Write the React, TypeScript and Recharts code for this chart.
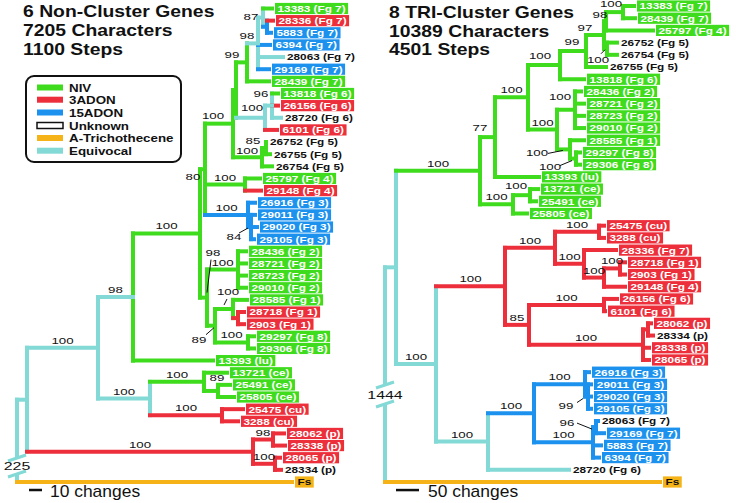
import React from "react";
import { ScatterChart, Scatter, XAxis, YAxis } from "recharts";

const FONT = "'Liberation Sans', Arial, Helvetica, sans-serif";
const PALETTE: Record<string, string> = {
  g: "#3fdc1e",
  r: "#ec2f3b",
  b: "#1c92ee",
  c: "#82d9d6",
  o: "#f5b318",
};

// character states shown in the legend
const stateNames = ["NIV", "3ADON", "15ADON", "Unknown", "A-Trichothecene", "Equivocal"];
const stateKeys = ["g", "r", "b", "", "o", "c"];

const leftTitle = ["6 Non-Cluster Genes", "7205 Characters", "1100 Steps"];
const rightTitle = ["8 TRI-Cluster Genes", "10389 Characters", "4501 Steps"];

type Kid = string | number;
// [label, tip position, branch colour, box colour ('' = plain text)]
type LeafRow = [string, number, string, string];
// [id, position, colour of the vertical, colour of the branch leading in, children]
type NodeRow = [string, number, string, string, Kid[]];
// [node, support, label nudge x, nudge y, pointer]
type SupportRow = [string, string, number?, number?, number[]?];

// ---- left tree: 6 non-cluster genes ----
const leftLeaves: LeafRow[] = [
  ["13383 (Fg 7)", 272, "g", "g"],
  ["28336 (Fg 7)", 273, "r", "r"],
  ["5883 (Fg 7)", 271, "b", "b"],
  ["6394 (Fg 7)", 270, "b", "b"],
  ["28063 (Fg 7)", 283, "c", ""],
  ["29169 (Fg 7)", 269, "b", "b"],
  ["28439 (Fg 7)", 269, "g", "g"],
  ["13818 (Fg 6)", 278, "g", "g"],
  ["26156 (Fg 6)", 278, "r", "r"],
  ["28720 (Fg 6)", 281, "c", ""],
  ["6101 (Fg 6)", 277, "r", "r"],
  ["26752 (Fg 5)", 266, "g", ""],
  ["26755 (Fg 5)", 270, "g", ""],
  ["26754 (Fg 5)", 272, "g", ""],
  ["25797 (Fg 4)", 260, "g", "g"],
  ["29148 (Fg 4)", 261, "r", "r"],
  ["26916 (Fg 3)", 255, "b", "b"],
  ["29011 (Fg 3)", 255, "b", "b"],
  ["29020 (Fg 3)", 257, "b", "b"],
  ["29105 (Fg 3)", 254, "b", "b"],
  ["28436 (Fg 2)", 246, "g", "g"],
  ["28721 (Fg 2)", 246, "g", "g"],
  ["28723 (Fg 2)", 246, "g", "g"],
  ["29010 (Fg 2)", 246, "g", "g"],
  ["28585 (Fg 1)", 247, "g", "g"],
  ["28718 (Fg 1)", 244, "r", "r"],
  ["2903 (Fg 1)", 244, "r", "r"],
  ["29297 (Fg 8)", 254, "g", "g"],
  ["29306 (Fg 8)", 254, "g", "g"],
  ["13393 (lu)", 213, "g", "g"],
  ["13721 (ce)", 227, "g", "g"],
  ["25491 (ce)", 230, "g", "g"],
  ["25805 (ce)", 234, "g", "g"],
  ["25475 (cu)", 243, "r", "r"],
  ["3288 (cu)", 238, "r", "r"],
  ["28062 (p)", 284, "r", "r"],
  ["28338 (p)", 285, "r", "r"],
  ["28065 (p)", 280, "r", "r"],
  ["28334 (p)", 281, "r", ""],
  ["Fs", 292, "o", "o"],
];

const leftNodes: NodeRow[] = [
  ["root", 17, "c", "c", ["A", 39]],
  ["A", 27, "c", "c", ["B", "C"]],
  ["B", 98, "c", "c", ["D", "E"]],
  ["C", 253, "r", "r", ["C1", "C2"]],
  ["C1", 273, "r", "r", [35, 36]],
  ["C2", 275, "r", "r", [37, 38]],
  ["D", 133, "g", "c", ["I", 29]],
  ["E", 150, "c", "c", ["F", "H"]],
  ["F", 204, "g", "g", [30, "G"]],
  ["G", 218, "g", "g", [31, 32]],
  ["H", 222, "r", "r", [33, 34]],
  ["I", 200, "g", "g", ["V", "I2"]],
  ["V", 205, "g", "g", ["U", "Fg4", "Fg3"]],
  ["U", 233, "g", "g", ["W", "Fg5"]],
  ["W", 236, "g", "g", ["N99", "Fg6"]],
  ["N99", 247, "g", "g", ["N98", 6]],
  ["N98", 258, "c", "c", ["N87", 3, 4, 5]],
  ["N87", 263, "c", "c", [0, "N87a"]],
  ["N87a", 267, "b", "b", [1, 2]],
  ["Fg6", 265, "c", "c", ["Fg6a", 10]],
  ["Fg6a", 272, "c", "c", [7, 8, 9]],
  ["Fg5", 262, "g", "g", ["Fg5a", 13]],
  ["Fg5a", 266, "g", "g", [11, 12]],
  ["Fg4", 245, "g", "g", [14, 15]],
  ["Fg3", 248, "b", "b", [16, "Fg3a"]],
  ["Fg3a", 251, "b", "b", [17, 18, 19]],
  ["I2", 207, "g", "g", ["Fg2", "K"]],
  ["Fg2", 238, "g", "g", [20, 21, 22, 23]],
  ["K", 215, "g", "g", ["Fg1", "Fg8"]],
  ["Fg1", 233, "g", "g", [24, "R"]],
  ["R", 238, "r", "r", [25, 26]],
  ["Fg8", 248, "g", "g", [27, 28]],
];

const leftSupport: SupportRow[] = [
  ["B", "100"], ["C", "100"], ["C1", "98"], ["C2", "100"], ["D", "98"],
  ["E", "100"], ["F", "100"], ["G", "89", -1, -10], ["H", "100"], ["I", "100"],
  ["V", "80", -12, 11], ["U", "100", -20, -5], ["N99", "99", -15, -4],
  ["N98", "98", -11, -4], ["N87", "87", -12, 2], ["Fg6", "100", -13, -7],
  ["Fg6a", "96", -11, -9], ["Fg5", "100", -15, -3], ["Fg5a", "85", -13, -4],
  ["Fg4", "100"], ["Fg3", "100"], ["Fg3a", "84", -17, 13, [-12, 6, -3, 1]],
  ["I2", "98", 6, -42, [4, -38, 0, -5]], ["Fg2", "100"],
  ["K", "89", -16, 17, [-9, 9, -1, 2]], ["Fg1", "100", -5, -14, [-6, -10, -9, -4]],
  ["Fg8", "100"],
];

// ---- right tree: 8 TRI-cluster genes ----
const rightLeaves: LeafRow[] = [
  ["13383 (Fg 7)", 634, "g", "g"],
  ["28439 (Fg 7)", 635, "g", "g"],
  ["25797 (Fg 4)", 653, "g", "g"],
  ["26752 (Fg 5)", 617, "g", ""],
  ["26754 (Fg 5)", 617, "g", ""],
  ["26755 (Fg 5)", 606, "g", ""],
  ["13818 (Fg 6)", 584, "g", "g"],
  ["28436 (Fg 2)", 581, "g", "g"],
  ["28721 (Fg 2)", 584, "g", "g"],
  ["28723 (Fg 2)", 584, "g", "g"],
  ["29010 (Fg 2)", 584, "g", "g"],
  ["28585 (Fg 1)", 584, "g", "g"],
  ["29297 (Fg 8)", 580, "g", "g"],
  ["29306 (Fg 8)", 580, "g", "g"],
  ["13393 (lu)", 539, "g", "g"],
  ["13721 (ce)", 538, "g", "g"],
  ["25491 (ce)", 536, "g", "g"],
  ["25805 (ce)", 527, "g", "g"],
  ["25475 (cu)", 604, "r", "r"],
  ["3288 (cu)", 604, "r", "r"],
  ["28336 (Fg 7)", 616, "r", "r"],
  ["28718 (Fg 1)", 625, "r", "r"],
  ["2903 (Fg 1)", 625, "r", "r"],
  ["29148 (Fg 4)", 625, "r", "r"],
  ["26156 (Fg 6)", 617, "r", "r"],
  ["6101 (Fg 6)", 605, "r", "r"],
  ["28062 (p)", 651, "r", "r"],
  ["28334 (p)", 653, "r", ""],
  ["28338 (p)", 649, "r", "r"],
  ["28065 (p)", 649, "r", "r"],
  ["26916 (Fg 3)", 589, "b", "b"],
  ["29011 (Fg 3)", 591, "b", "b"],
  ["29020 (Fg 3)", 591, "b", "b"],
  ["29105 (Fg 3)", 591, "b", "b"],
  ["28063 (Fg 7)", 598, "b", ""],
  ["29169 (Fg 7)", 604, "b", "b"],
  ["5883 (Fg 7)", 601, "b", "b"],
  ["6394 (Fg 7)", 599, "b", "b"],
  ["28720 (Fg 6)", 569, "c", ""],
  ["Fs", 660, "o", "o"],
];

const rightNodes: NodeRow[] = [
  ["root", 385, "c", "c", ["R1", 39]],
  ["R1", 396, "c", "c", ["G1", "R2"]],
  ["G1", 480, "g", "g", ["G2", "CE"]],
  ["G2", 495, "g", "g", ["G3", 14]],
  ["G3", 528, "g", "g", ["G4", "G5"]],
  ["G4", 560, "g", "g", ["G6", 6]],
  ["G6", 586, "g", "g", ["G7", 5]],
  ["G7", 604, "g", "g", ["G7a", "P"]],
  ["G7a", 606, "g", "g", ["G8", 2]],
  ["G8", 623, "g", "g", [0, 1]],
  ["P", 607, "g", "g", [3, 4]],
  ["G5", 557, "g", "g", ["Fg2", "Fg18"]],
  ["Fg2", 575, "g", "g", [7, 8, 9, 10]],
  ["Fg18", 570, "g", "g", [11, "Fg8"]],
  ["Fg8", 576, "g", "g", [12, 13]],
  ["CE", 513, "g", "g", ["CEa", 17]],
  ["CEa", 530, "g", "g", [15, 16]],
  ["R2", 436, "c", "c", ["RD", "R3"]],
  ["RD", 505, "r", "r", ["RD1", "RD2"]],
  ["RD1", 555, "r", "r", ["R4", "R5"]],
  ["R4", 599, "r", "r", [18, 19]],
  ["R5", 584, "r", "r", [20, "R5a"]],
  ["R5a", 604, "r", "r", ["R5b", 23]],
  ["R5b", 620, "r", "r", [21, 22]],
  ["RD2", 529, "r", "r", ["R6", "R7"]],
  ["R6", 604, "r", "r", [24, 25]],
  ["R7", 643, "r", "r", ["R7a", 28, 29]],
  ["R7a", 648, "r", "r", [26, 27]],
  ["R3", 488, "c", "c", ["B1", 38]],
  ["B1", 534, "b", "b", ["B2", "B3"]],
  ["B2", 585, "b", "b", [30, "B2a"]],
  ["B2a", 588, "b", "b", [31, 32, 33]],
  ["B3", 593, "b", "b", ["B3a", 36, 37]],
  ["B3a", 596, "b", "b", [34, 35]],
];

const rightSupport: SupportRow[] = [
  ["G1", "100"], ["G2", "77", -15, -6], ["G3", "100"], ["G4", "100", -20, -6],
  ["G6", "99", -14, -6], ["G7", "97", -19, -4], ["G7a", "98", -6, -3],
  ["G8", "100", -12, -5], ["P", "100", -9, 14, [-6, 5, -2, 1]], ["G5", "100"],
  ["Fg2", "100", -15, -10], ["Fg18", "100", -33, 7, [-22, 4, -7, 1]],
  ["Fg8", "100", -26, 11, [-16, 7, -4, 2]], ["CE", "100"], ["CEa", "100", -14, -6],
  ["R2", "100"], ["RD", "100"], ["RD1", "100"], ["R4", "100"], ["R5", "100"],
  ["R5a", "100"], ["R5b", "100"], ["RD2", "85"], ["R6", "100"], ["R7", "100"],
  ["R3", "100"], ["B1", "100"], ["B2", "100"], ["B2a", "99", -22, 12, [-11, 6, -5, 2]],
  ["B3", "100"], ["B3a", "96", -29, -1, [-19, -4, -4, 2]],
];

// scale bars: [from, to, row]
const leftScaleBar = [29, 42, 39.66];
const rightScaleBar = [396, 419, 39.66];

// Arial-bold advance widths (em)
const BOLD_W: Record<string, number> = {
  " ": 0.278, "(": 0.333, ")": 0.333, F: 0.611, g: 0.611, l: 0.278,
  u: 0.611, c: 0.556, e: 0.556, p: 0.611, s: 0.556,
};
const textEm = (s: string) =>
  [...s].reduce((a, ch) => a + (/[0-9]/.test(ch) ? 0.556 : BOLD_W[ch] ?? 0.6), 0);

type Seg = { x1: number; x2: number; y1: number; y2: number; c: string };

function layoutTree(nodes: NodeRow[], leaves: LeafRow[]) {
  const byId = new Map(nodes.map((n) => [n[0], n]));
  const ys = new Map<string, number>();
  const parentX = new Map<string, number>();
  const verticals: Seg[] = [];
  const branches: Seg[] = [];
  const place = (id: string): number => {
    const n = byId.get(id)!;
    const kidY = n[4].map((k) => {
      if (typeof k === "number") {
        branches.push({ x1: n[1], x2: leaves[k][1], y1: k, y2: k, c: leaves[k][2] });
        return k;
      }
      const y = place(k);
      const child = byId.get(k)!;
      parentX.set(k, n[1]);
      branches.push({ x1: n[1], x2: child[1], y1: y, y2: y, c: child[3] });
      return y;
    });
    const lo = Math.min(...kidY);
    const hi = Math.max(...kidY);
    verticals.push({ x1: n[1], x2: n[1], y1: lo, y2: hi, c: n[2] });
    const y = (lo + hi) / 2;
    ys.set(id, y);
    return y;
  };
  place(nodes[0][0]);
  return { byId, ys, parentX, segs: [...verticals, ...branches] };
}

const noDot = () => <g />;

const LEAF_FS = 9.5;
const LEAF_SX = 1.24;

function LeafTag(props: any) {
  const { cx, cy, payload } = props;
  const [label, , , box] = payload.leaf as LeafRow;
  const common = { fontFamily: FONT, fontSize: LEAF_FS, fontWeight: 700 };
  if (!box) {
    return (
      <text {...common} fill="#111" transform={`translate(${cx + 4},${cy + 3.4}) scale(${LEAF_SX},1)`}>
        {label}
      </text>
    );
  }
  const w = textEm(label) * LEAF_FS * LEAF_SX + 5;
  return (
    <g>
      <rect x={cx + 3} y={cy - 5.6} width={w} height={11.2} fill={PALETTE[box]} />
      <text
        {...common}
        textAnchor="middle"
        fill={box === "o" ? "#111" : "#fff"}
        transform={`translate(${cx + 3 + w / 2},${cy + 3.4}) scale(${LEAF_SX},1)`}
      >
        {label}
      </text>
    </g>
  );
}

function SupportTag(props: any) {
  const { cx, cy, payload } = props;
  const { text, dx, dy, ptr } = payload;
  return (
    <g>
      {ptr && (
        <line x1={cx + ptr[0]} y1={cy + ptr[1]} x2={cx + ptr[2]} y2={cy + ptr[3]} stroke="#111" strokeWidth={1} />
      )}
      <text
        fontFamily={FONT}
        fontSize={9.5}
        fill="#111"
        textAnchor="middle"
        transform={`translate(${cx + dx},${cy + dy}) scale(1.4,1)`}
      >
        {text}
      </text>
    </g>
  );
}

function TreePanel(props: {
  nodes: NodeRow[];
  leaves: LeafRow[];
  support: SupportRow[];
  xDomain: [number, number];
  yDomain: [number, number];
  width: number;
  bar: number[];
}) {
  const { nodes, leaves, support, xDomain, yDomain, width, bar } = props;
  const lay = layoutTree(nodes, leaves);
  const leafPts = leaves.map((l, i) => ({ x: l[1], y: i, leaf: l }));
  const supPts = support.map(([id, text, dx, dy, ptr]) => {
    const x = lay.byId.get(id)![1];
    const y = lay.ys.get(id)!;
    if (dx === undefined) return { x: (lay.parentX.get(id)! + x) / 2, y, text, dx: 0, dy: -4 };
    return { x, y, text, dx, dy, ptr };
  });

  return (
    <ScatterChart width={width} height={503} margin={{ top: 0, right: 0, bottom: 0, left: 0 }}>
      <XAxis type="number" dataKey="x" domain={xDomain} hide allowDataOverflow />
      <YAxis type="number" dataKey="y" domain={yDomain} reversed hide allowDataOverflow />
      {lay.segs.map((s, i) => (
        <Scatter
          key={"seg" + i}
          data={[
            { x: s.x1, y: s.y1 },
            { x: s.x2, y: s.y2 },
          ]}
          line={{ stroke: PALETTE[s.c], strokeWidth: 4, strokeLinecap: "square" }}
          shape={noDot}
          isAnimationActive={false}
        />
      ))}
      <Scatter
        data={[
          { x: bar[0], y: bar[2] },
          { x: bar[1], y: bar[2] },
        ]}
        line={{ stroke: "#111", strokeWidth: 2.5 }}
        shape={noDot}
        isAnimationActive={false}
      />
      <Scatter data={leafPts} shape={LeafTag} isAnimationActive={false} />
      <Scatter data={supPts} shape={SupportTag} isAnimationActive={false} />
    </ScatterChart>
  );
}

function Txt(p: { x: number; y: number; size: number; sx: number; bold?: boolean; anchor?: string; children: any }) {
  return (
    <text
      fontFamily={FONT}
      fontSize={p.size}
      fontWeight={p.bold ? 700 : 400}
      textAnchor={p.anchor ?? "start"}
      fill="#111"
      transform={`translate(${p.x},${p.y}) scale(${p.sx},1)`}
    >
      {p.children}
    </text>
  );
}

function Overlay() {
  const legendY = [87.5, 99.7, 112.5, 125.5, 138, 150.7];
  return (
    <svg width={736} height={503} style={{ position: "absolute", left: 0, top: 0, pointerEvents: "none" }}>
      {leftTitle.map((t, i) => (
        <Txt key={t} x={23} y={17 + i * 19} size={16} sx={1.21} bold>
          {t}
        </Txt>
      ))}
      {rightTitle.map((t, i) => (
        <Txt key={t} x={389} y={18 + i * 18.5} size={16} sx={1.21} bold>
          {t}
        </Txt>
      ))}
      <rect x={26} y={76} width={155} height={86} rx={8} fill="#fff" stroke="#111" strokeWidth={2} />
      {stateNames.map((n, i) => (
        <g key={n}>
          <rect
            x={37}
            y={legendY[i] - 3}
            width={26}
            height={6}
            fill={stateKeys[i] ? PALETTE[stateKeys[i]] : "#fff"}
            stroke={stateKeys[i] ? "none" : "#111"}
            strokeWidth={1.5}
          />
          <Txt x={69} y={legendY[i] + 4} size={10.5} sx={1.27} bold>
            {n}
          </Txt>
        </g>
      ))}
      {/* broken root branches */}
      <rect x={10} y={459} width={14} height={14} fill="#fff" />
      <line x1={8} y1={461} x2={26} y2={455} stroke={PALETTE.c} strokeWidth={3} />
      <line x1={8} y1={477} x2={26} y2={471} stroke={PALETTE.c} strokeWidth={3} />
      <Txt x={17} y={470} size={11} sx={1.45} anchor="middle">
        225
      </Txt>
      <rect x={378} y={386} width={14} height={17} fill="#fff" />
      <line x1={376} y1={388} x2={394} y2={382} stroke={PALETTE.c} strokeWidth={3} />
      <line x1={376} y1={407} x2={394} y2={401} stroke={PALETTE.c} strokeWidth={3} />
      <Txt x={385} y={399} size={11} sx={1.45} anchor="middle">
        1444
      </Txt>
      <Txt x={50} y={497} size={16} sx={1.09}>
        10 changes
      </Txt>
      <Txt x={428} y={497} size={16} sx={1.09}>
        50 changes
      </Txt>
    </svg>
  );
}

export default function App() {
  return (
    <div style={{ position: "absolute", left: 0, top: 0, width: 736, height: 503, background: "#fff" }}>
      <div style={{ position: "absolute", left: 0, top: 0 }}>
        <TreePanel
          nodes={leftNodes}
          leaves={leftLeaves}
          support={leftSupport}
          xDomain={[0, 366]}
          yDomain={[-0.7, 40.73]}
          width={366}
          bar={leftScaleBar}
        />
      </div>
      <div style={{ position: "absolute", left: 366, top: 0 }}>
        <TreePanel
          nodes={rightNodes}
          leaves={rightLeaves}
          support={rightSupport}
          xDomain={[366, 736]}
          yDomain={[-0.492, 40.72]}
          width={370}
          bar={rightScaleBar}
        />
      </div>
      <Overlay />
    </div>
  );
}
